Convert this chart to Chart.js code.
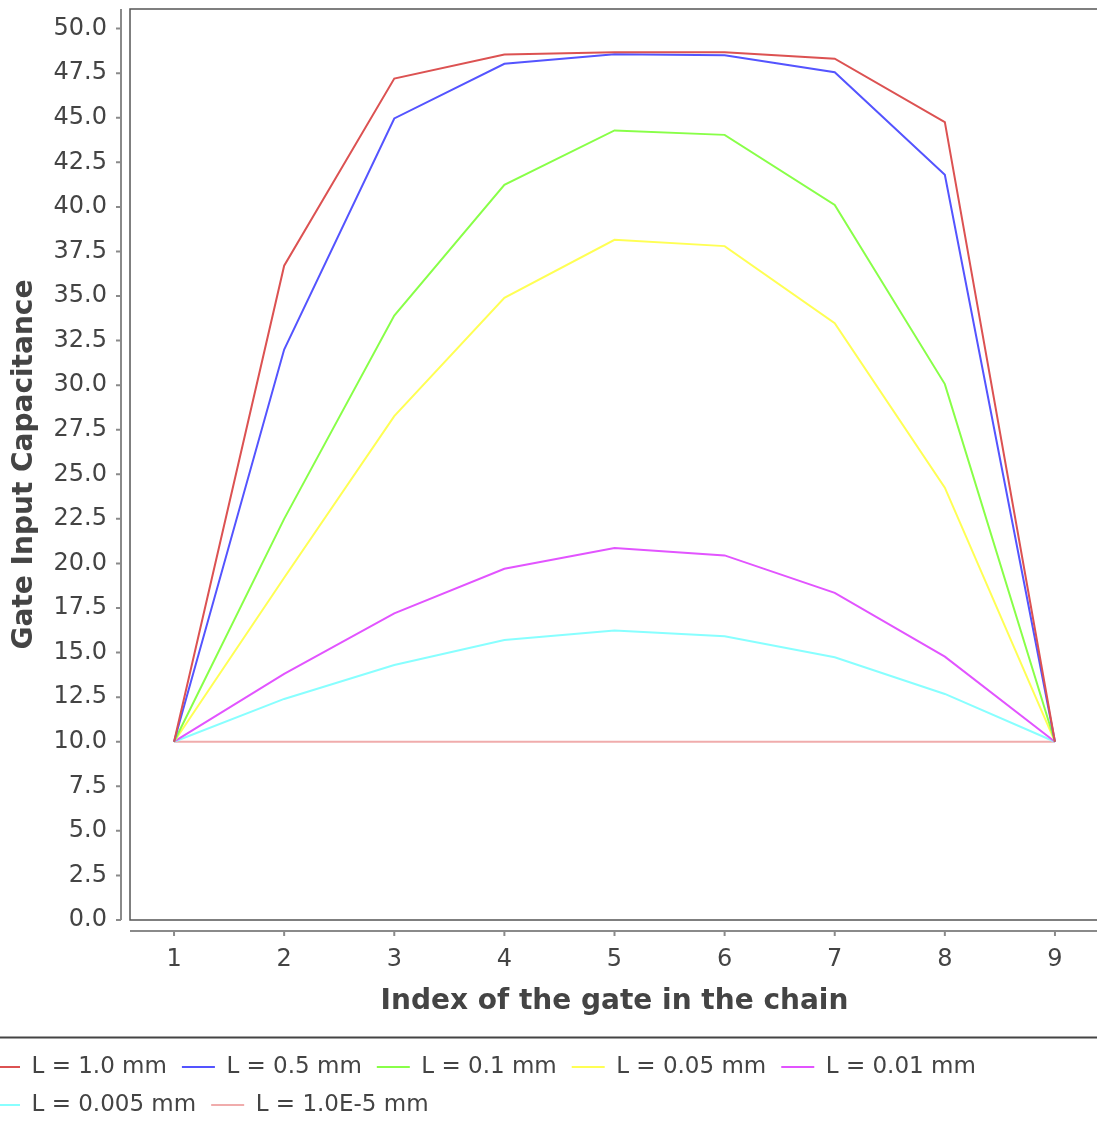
<!DOCTYPE html>
<html>
<head>
<meta charset="utf-8">
<script src="https://cdn.jsdelivr.net/npm/chart.js@4"></script>
<style>
  html, body { margin: 0; padding: 0; background: #fff; overflow: hidden; }
  #wrap { position: absolute; left: -28px; top: 0; width: 1130px; height: 1133px; }
</style>
</head>
<body>
<div id="wrap"><canvas id="chart" width="1130" height="1133"></canvas></div>
<script>
const gateIndex = [1, 2, 3, 4, 5, 6, 7, 8, 9];
const seriesNames = ['L = 1.0 mm', 'L = 0.5 mm', 'L = 0.1 mm', 'L = 0.05 mm', 'L = 0.01 mm', 'L = 0.005 mm', 'L = 1.0E-5 mm'];
const cap_1mm    = [10, 36.7, 47.2, 48.55, 48.67, 48.67, 48.31, 44.76, 10];
const cap_05mm   = [10, 32.0, 44.96, 48.03, 48.56, 48.5, 47.55, 41.8, 10];
const cap_01mm   = [10, 22.5, 33.9, 41.24, 44.29, 44.04, 40.11, 30.06, 10];
const cap_005mm  = [10, 19.2, 28.26, 34.9, 38.15, 37.8, 33.47, 24.25, 10];
const cap_001mm  = [10, 13.8, 17.2, 19.7, 20.86, 20.45, 18.35, 14.77, 10];
const cap_0005mm = [10, 12.4, 14.3, 15.7, 16.24, 15.92, 14.74, 12.68, 10];
const cap_1e5mm  = [10, 10, 10, 10, 10, 10, 10, 10, 10];
const yTicks = { min: 0, max: 51.1, step: 2.5 };
const xTicks = { min: 0.6, max: 9.4, step: 1 };

const allSeries = [cap_1mm, cap_05mm, cap_01mm, cap_005mm, cap_001mm, cap_0005mm, cap_1e5mm];
const colors = ['rgb(220,82,82)', 'rgb(84,84,255)', 'rgb(136,255,72)', 'rgb(255,255,84)',
                'rgb(226,84,255)', 'rgb(136,255,255)', 'rgb(240,172,172)'];

Chart.defaults.font.family = "'DejaVu Sans', Verdana, sans-serif";
Chart.defaults.color = '#444';

// axis lines sit a little away from the plot box, like the original
const frame = {
    id: 'frame',
    afterDraw(chart) {
        const c = chart.ctx, a = chart.chartArea;
        const xs = chart.scales.x, ys = chart.scales.y;
        c.save();
        // plot box
        c.strokeStyle = '#555';
        c.lineWidth = 1.5;
        c.strokeRect(a.left, a.top, a.right - a.left + 20, a.bottom - a.top);
        // y axis
        c.strokeStyle = '#8a8a8a';
        c.lineWidth = 2;
        const yx = a.left - 9;
        c.beginPath();
        c.moveTo(yx, a.top);
        c.lineTo(yx, a.bottom);
        ys.ticks.forEach(t => {
            const p = ys.getPixelForValue(t.value);
            c.moveTo(yx - 5, p);
            c.lineTo(yx, p);
        });
        c.stroke();
        // x axis
        const xy = a.bottom + 11;
        c.beginPath();
        c.moveTo(a.left, xy);
        c.lineTo(a.right + 20, xy);
        xs.ticks.forEach(t => {
            const p = xs.getPixelForValue(t.value);
            c.moveTo(p, xy);
            c.lineTo(p, xy + 5);
        });
        c.stroke();
        // legend separator
        const ly = chart.legend.top - 3;
        c.strokeStyle = '#444';
        c.lineWidth = 2;
        c.beginPath();
        c.moveTo(0, ly);
        c.lineTo(chart.width, ly);
        c.stroke();
        c.restore();
    }
};

new Chart(document.getElementById('chart'), {
    type: 'line',
    data: {
        datasets: allSeries.map((vals, i) => ({
            label: seriesNames[i],
            data: vals.map((v, j) => ({ x: gateIndex[j], y: v })),
            borderColor: colors[i],
            backgroundColor: colors[i],
            borderWidth: 2,
            pointRadius: 0,
            tension: 0,
            fill: false
        }))
    },
    options: {
        responsive: false,
        animation: false,
        devicePixelRatio: 1,
        layout: { padding: { top: 9, right: 3, bottom: 6.5, left: 0 } },
        plugins: {
            tooltip: { enabled: false },
            legend: {
                position: 'bottom',
                align: 'start',
                labels: {
                    usePointStyle: true,
                    pointStyle: 'line',
                    pointStyleWidth: 33,
                    padding: 15,
                    color: '#444',
                    font: { size: 23 }
                }
            }
        },
        scales: {
            x: {
                type: 'linear',
                min: xTicks.min,
                max: xTicks.max,
                grid: { display: false, drawTicks: false },
                border: { display: false },
                ticks: {
                    stepSize: xTicks.step,
                    includeBounds: false,
                    autoSkip: false,
                    maxTicksLimit: 100,
                    padding: 25,
                    font: { size: 24 },
                    color: '#444'
                },
                title: {
                    display: true,
                    text: 'Index of the gate in the chain',
                    font: { size: 28, weight: 'bold' },
                    color: '#444',
                    padding: { top: 0, bottom: 22 }
                },
                afterFit(s) { s.height = 120.5; s.paddingLeft = 0; s.paddingRight = 0; }
            },
            y: {
                min: yTicks.min,
                max: yTicks.max,
                grid: { display: false, drawTicks: false },
                border: { display: false },
                ticks: {
                    stepSize: yTicks.step,
                    includeBounds: false,
                    autoSkip: false,
                    maxTicksLimit: 100,
                    padding: 23,
                    font: { size: 24 },
                    color: '#444',
                    callback: v => v.toFixed(1)
                },
                title: {
                    display: true,
                    text: 'Gate Input Capacitance',
                    font: { size: 28, weight: 'bold' },
                    color: '#444',
                    padding: { top: 36, bottom: 0 }
                },
                afterFit(s) { s.width = 158; s.paddingTop = 0; s.paddingBottom = 0; }
            }
        }
    },
    plugins: [frame]
});
</script>
</body>
</html>
